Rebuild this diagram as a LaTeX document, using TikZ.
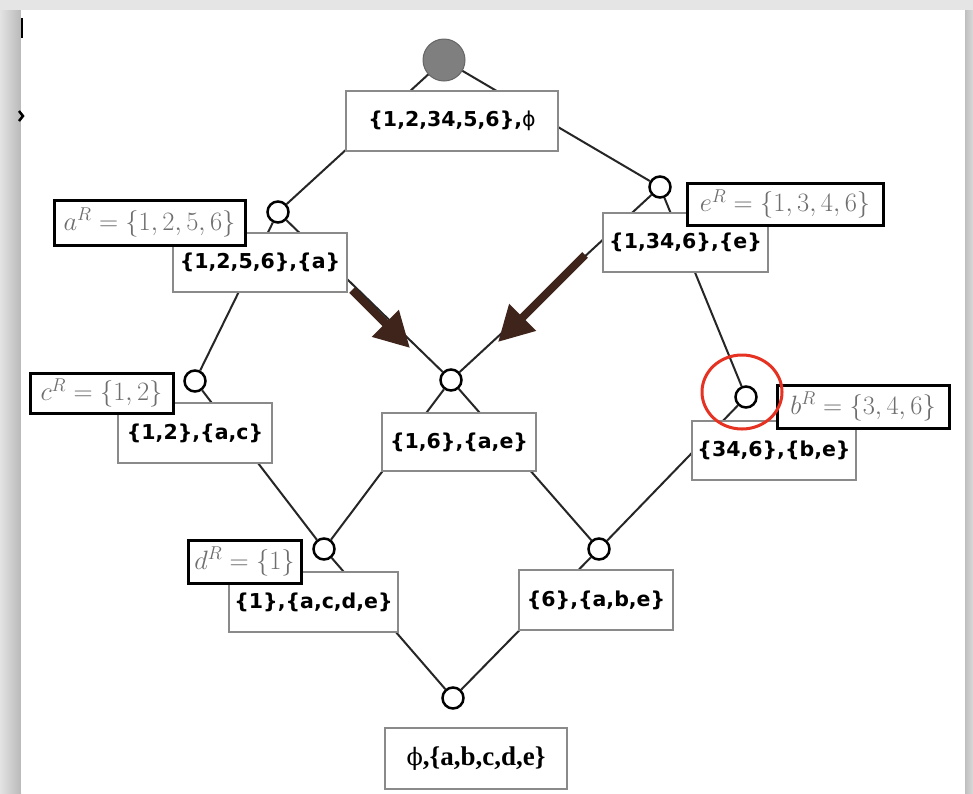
\RequirePackage{fix-cm}
\documentclass[tikz,border=0pt]{standalone}
\usepackage{fontspec}
\newfontfamily\setsans{DejaVu Sans}
\newfontfamily\setserif{Liberation Serif}
\newfontfamily\phiserif{DejaVu Serif}
\usetikzlibrary{arrows.meta}
\definecolor{arrowbrown}{HTML}{3F241B}
\definecolor{labelgray}{HTML}{6E6E6E}
\definecolor{boxgray}{HTML}{8A8A8A}
\definecolor{markred}{HTML}{E63222}
\definecolor{rootgray}{HTML}{7F7F7F}
\begin{document}
\begin{tikzpicture}[x=1pt,y=-1pt,
  edge/.style={line width=2pt, black!85},
  vert/.style={circle, draw=black, line width=2.5pt, fill=white, minimum size=21pt, inner sep=0pt},
  rootvert/.style={circle, draw=black!60, line width=1pt, fill=rootgray, minimum size=42pt, inner sep=0pt},
  setbox/.style={draw=boxgray, line width=1.1pt, fill=white, inner sep=0pt,
    font=\setsans\bfseries\fontsize{20.5}{24}\selectfont},
  serifbox/.style={draw=boxgray, line width=1.1pt, fill=white, inner sep=0pt,
    font=\setserif\bfseries\fontsize{27}{30}\selectfont},
  labelbox/.style={draw=black, line width=3pt, fill=white, inner sep=0pt,
    text=labelgray, font=\fontsize{26.5}{30}\selectfont},
  bigarrow/.style={arrowbrown, line width=8pt,
    -{Triangle[length=35pt, width=36pt]}}
]
\useasboundingbox (0,0) rectangle (973,793);

% page and its shadow
\fill[gray!20] (0,0) rectangle (973,793);
\shade[left color=gray!22, right color=gray!55] (0,10) rectangle (21,793);
\shade[left color=gray!50, right color=gray!30] (965,10) rectangle (973,793);
\fill[white] (21,10) rectangle (965,793);
\draw[black, line width=1.5pt] (22,18) -- (22,38);
\draw[black, line width=2.5pt] (19,111) -- (23,116) -- (19,121);

% lattice vertices
\node[rootvert] (vRoot) at (444,60) {};
\node[vert] (vA)  at (278,212) {};
\node[vert] (vE)  at (660,187) {};
\node[vert] (vC)  at (195,381) {};
\node[vert] (vAE) at (451,380) {};
\node[vert] (vB)  at (746,397) {};
\node[vert] (vD)  at (324,549) {};
\node[vert] (v6)  at (599,549) {};
\node[vert] (vBot) at (453,698) {};

% lattice edges
\draw[edge] (vRoot) -- (vA);
\draw[edge] (vRoot) -- (vE);
\draw[edge] (vA) -- (vC);
\draw[edge] (vA) -- (vAE);
\draw[edge] (vE) -- (vAE);
\draw[edge] (vE) -- (vB);
\draw[edge] (vC) -- (vD);
\draw[edge] (vAE) -- (vD);
\draw[edge] (vAE) -- (v6);
\draw[edge] (vB) -- (v6);
\draw[edge] (vD) -- (vBot);
\draw[edge] (v6) -- (vBot);

% concept boxes
\node[setbox, minimum width=212pt, minimum height=60pt] (tRoot) at (452,121) {\{1,2,34,5,6\},{\mdseries ϕ}};
\node[setbox, minimum width=174pt, minimum height=59pt] (tA) at (260,262.5) {\{1,2,5,6\},\{a\}};
\node[setbox, minimum width=165pt, minimum height=59pt] (tE) at (685.5,242.5) {\{1,34,6\},\{e\}};
\node[setbox, minimum width=154pt, minimum height=60pt] (tC) at (195,433) {\{1,2\},\{a,c\}};
\node[setbox, minimum width=154pt, minimum height=58pt] (tAE) at (459,442) {\{1,6\},\{a,e\}};
\node[setbox, minimum width=164pt, minimum height=59pt] (tB) at (774,450.5) {\{34,6\},\{b,e\}};
\node[setbox, minimum width=169pt, minimum height=60pt] (tD) at (313.5,602) {\{1\},\{a,c,d,e\}};
\node[setbox, minimum width=154pt, minimum height=60pt] (t6) at (596,600) {\{6\},\{a,b,e\}};
\node[serifbox, minimum width=182pt, minimum height=61pt] (tBot) at (476,758.5) {{\phiserif\mdseries\fontsize{24}{28}\selectfont ϕ},\{a,b,c,d,e\}};

% attribute extent labels
\node[labelbox, minimum width=191pt, minimum height=45pt] (lA) at (149.5,222.5) {$a^R=\{1,2,5,6\}$};
\node[labelbox, minimum width=196pt, minimum height=42pt] (lE) at (785,204) {$e^R=\{1,3,4,6\}$};
\node[labelbox, minimum width=172pt, minimum height=43pt] (lB) at (863,406.5) {$b^R=\{3,4,6\}$};
\node[labelbox, minimum width=143pt, minimum height=40pt] (lC) at (101.5,393) {$c^R=\{1,2\}$};
\node[labelbox, minimum width=113pt, minimum height=43pt] (lD) at (244.5,561.5) {$d^R=\{1\}$};

% highlighting arrows
\coordinate (arrLs) at (352,290);
\coordinate (arrLe) at (410,348);
\coordinate (arrRs) at (585,255);
\coordinate (arrRe) at (498,342);
\draw[bigarrow] (arrLs) -- (arrLe);
\draw[bigarrow] (arrRs) -- (arrRe);

% red ring around the b vertex
\draw[markred, line width=3pt] (742,392) ellipse [x radius=40pt, y radius=37pt];
\end{tikzpicture}
\end{document}
